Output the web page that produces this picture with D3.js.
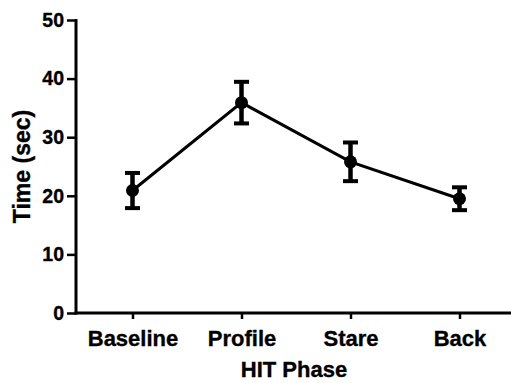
<!DOCTYPE html>
<html>
<head>
<meta charset="utf-8">
<script src="https://cdn.jsdelivr.net/npm/d3@7"></script>
<style>
  html, body { margin: 0; padding: 0; background: #fff; }
  svg { display: block; }
  text { font-family: "Liberation Sans", Arial, sans-serif; font-weight: bold; fill: #000; stroke: #000; stroke-width: 0.35px; }
</style>
</head>
<body>
<svg id="chart" width="511" height="383"></svg>
<script>
// data
const phases = ['Baseline', 'Profile', 'Stare', 'Back'];
const meanTime = [20.9, 35.9, 25.8, 19.5];
const errTime = [3.0, 3.55, 3.3, 1.95];
const yTicks = [0, 10, 20, 30, 40, 50];

const svg = d3.select('#chart');

const x = d3.scalePoint()
    .domain(phases)
    .range([78, 514])
    .padding(0.5);

const y = d3.scaleLinear()
    .domain([0, 50])
    .range([313, 20]);

const axisX0 = 76;

// y axis
const yAxis = svg.append('g')
    .attr('transform', `translate(${axisX0},0)`)
    .call(d3.axisLeft(y).tickValues(yTicks).tickSize(9).tickPadding(3).tickSizeOuter(0));
yAxis.select('.domain').attr('stroke', '#000').attr('stroke-width', 3)
    .attr('d', `M0,${y(50) - 1}V${y(0) + 1.5}`);
yAxis.selectAll('.tick line').attr('stroke', '#000').attr('stroke-width', 2.5);
yAxis.selectAll('.tick text')
    .attr('font-size', '19.5px')
    .attr('fill', '#000');

// x axis
const xAxis = svg.append('g')
    .attr('transform', `translate(0,${y(0)})`)
    .call(d3.axisBottom(x).tickSize(6).tickPadding(11).tickSizeOuter(0));
xAxis.select('.domain').attr('stroke', '#000').attr('stroke-width', 3)
    .attr('d', `M${axisX0 - 1.5},0H511`);
xAxis.selectAll('.tick line').attr('stroke', '#000').attr('stroke-width', 2.5);
xAxis.selectAll('.tick text')
    .attr('font-size', '22px')
    .attr('fill', '#000');

// axis titles
svg.append('text')
    .attr('transform', 'translate(30,166.5) rotate(-90)')
    .attr('text-anchor', 'middle')
    .attr('font-size', '23px')
    .text('Time (sec)');

svg.append('text')
    .attr('x', 294)
    .attr('y', 377)
    .attr('text-anchor', 'middle')
    .attr('font-size', '22px')
    .text('HIT Phase');

const points = phases.map((p, i) => ({ phase: p, mean: meanTime[i], err: errTime[i] }));

// connecting line
svg.append('path')
    .datum(points)
    .attr('fill', 'none')
    .attr('stroke', '#000')
    .attr('stroke-width', 3)
    .attr('d', d3.line().x(d => x(d.phase)).y(d => y(d.mean)));

// error bars
const capW = 7.5;
const bars = svg.append('g').selectAll('g')
    .data(points)
    .enter()
    .append('g')
    .attr('stroke', '#000');

bars.append('line')
    .attr('stroke-width', 4.5)
    .attr('x1', d => x(d.phase)).attr('x2', d => x(d.phase))
    .attr('y1', d => y(d.mean + d.err)).attr('y2', d => y(d.mean - d.err));
bars.append('line')
    .attr('stroke-width', 4)
    .attr('x1', d => x(d.phase) - capW).attr('x2', d => x(d.phase) + capW)
    .attr('y1', d => y(d.mean + d.err)).attr('y2', d => y(d.mean + d.err));
bars.append('line')
    .attr('stroke-width', 4)
    .attr('x1', d => x(d.phase) - capW).attr('x2', d => x(d.phase) + capW)
    .attr('y1', d => y(d.mean - d.err)).attr('y2', d => y(d.mean - d.err));

// markers
svg.append('g').selectAll('circle')
    .data(points)
    .enter()
    .append('circle')
    .attr('cx', d => x(d.phase))
    .attr('cy', d => y(d.mean))
    .attr('r', 6.5)
    .attr('fill', '#000');
</script>
</body>
</html>
